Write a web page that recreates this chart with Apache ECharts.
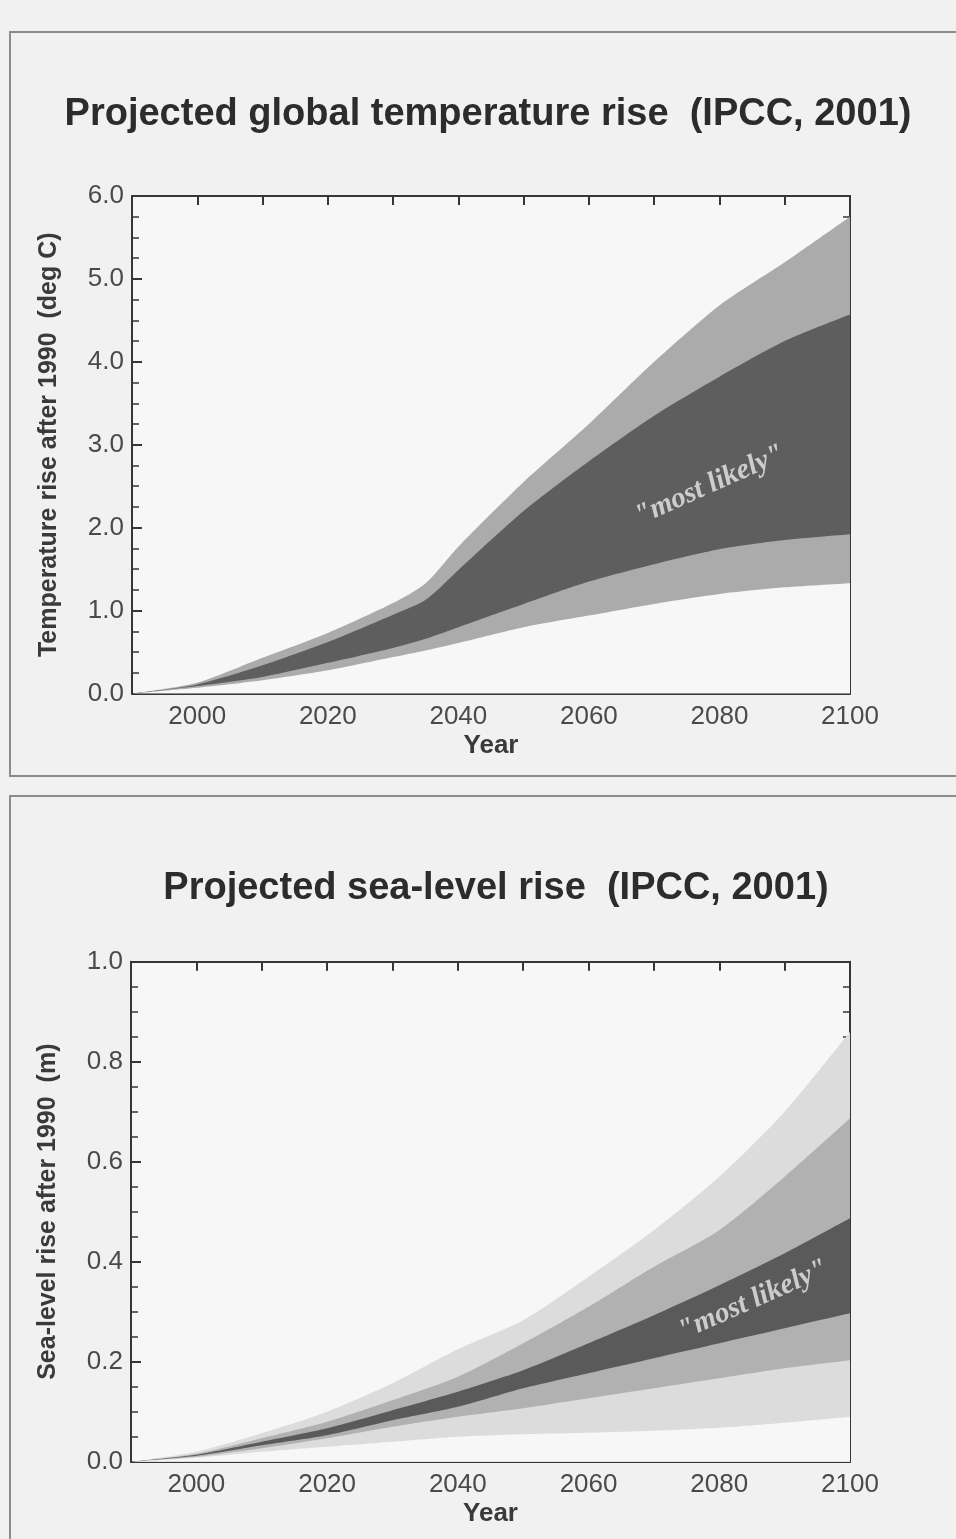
<!DOCTYPE html>
<html>
<head>
<meta charset="utf-8">
<script src="https://cdn.jsdelivr.net/npm/echarts@6/dist/echarts.min.js"></script>
<style>
  html, body { margin: 0; padding: 0; background: #f1f1f1; }
  #chart { width: 956px; height: 1539px; }
</style>
</head>
<body>
<div id="chart"></div>
<script>
// temperature projection (deg C above 1990)
const tempYears = [1990, 2000, 2010, 2020, 2030, 2035, 2040, 2050, 2060, 2070, 2080, 2090, 2100];
const tempLower = [0, 0.07, 0.16, 0.28, 0.44, 0.52, 0.61, 0.80, 0.94, 1.08, 1.20, 1.28, 1.33];
const tempLikelyLow = [0, 0.09, 0.20, 0.37, 0.55, 0.66, 0.80, 1.08, 1.35, 1.56, 1.74, 1.85, 1.92];
const tempLikelyHigh = [0, 0.11, 0.34, 0.62, 0.95, 1.13, 1.49, 2.20, 2.80, 3.35, 3.82, 4.25, 4.57];
const tempUpper = [0, 0.13, 0.43, 0.73, 1.09, 1.33, 1.77, 2.55, 3.25, 4.00, 4.68, 5.20, 5.75];

// sea-level projection (m above 1990)
const seaYears = [1990, 2000, 2010, 2020, 2030, 2040, 2050, 2060, 2070, 2080, 2090, 2100];
const seaLower = [0, 0.008, 0.020, 0.030, 0.040, 0.050, 0.055, 0.058, 0.062, 0.068, 0.078, 0.090];
const seaMidLow = [0, 0.010, 0.027, 0.047, 0.070, 0.090, 0.107, 0.127, 0.147, 0.167, 0.187, 0.203];
const seaLikelyLow = [0, 0.012, 0.033, 0.053, 0.083, 0.110, 0.147, 0.177, 0.207, 0.237, 0.267, 0.297];
const seaLikelyHigh = [0, 0.014, 0.040, 0.067, 0.103, 0.140, 0.183, 0.237, 0.293, 0.353, 0.417, 0.487];
const seaMidHigh = [0, 0.016, 0.047, 0.080, 0.123, 0.170, 0.237, 0.310, 0.390, 0.463, 0.570, 0.687];
const seaUpper = [0, 0.020, 0.057, 0.100, 0.157, 0.225, 0.283, 0.370, 0.463, 0.570, 0.700, 0.860];

const tempTicksY = [0, 6, 1];
const seaTicksY = [0, 1, 0.2];
const yearTicks = [1990, 2100, 10];

const tempNote = [2078.5, 2.51];
const seaNote = [2085.2, 0.323];

const FONT = 'Liberation Sans, Arial, sans-serif';
const AXIS_COLOR = '#363636';
const PLOT_BG = '#f7f7f7';
const LIGHT = '#ababab';
const DARK = '#5e5e5e';
const PALE = '#dcdcdc';

const chart = echarts.init(document.getElementById('chart'));

// each boundary is filled down to zero; later series paint over earlier ones
function layer(name, years, values, color, gridIdx) {
    return {
        name: name,
        type: 'line',
        xAxisIndex: gridIdx * 2,
        yAxisIndex: gridIdx * 2,
        smooth: 0.25,
        showSymbol: false,
        silent: true,
        lineStyle: { width: 0 },
        areaStyle: { color: color, opacity: 1, origin: 'start' },
        data: years.map((y, i) => [y, values[i]])
    };
}

function note(pos, gridIdx) {
    return {
        type: 'scatter',
        xAxisIndex: gridIdx * 2,
        yAxisIndex: gridIdx * 2,
        symbolSize: 0,
        itemStyle: { color: 'transparent' },
        silent: true,
        z: 10,
        label: {
            show: true,
            position: 'inside',
            rotate: 24,
            formatter: '"most likely"',
            fontFamily: 'Liberation Serif, DejaVu Serif, serif',
            fontStyle: 'italic',
            fontWeight: 'bold',
            fontSize: 29,
            color: '#e8e8e8'
        },
        data: [pos]
    };
}

function xAxes(gridIdx) {
    const common = {
        gridIndex: gridIdx,
        type: 'value',
        min: yearTicks[0],
        max: yearTicks[1],
        interval: yearTicks[2],
        splitLine: { show: false },
        axisLine: { show: true, onZero: false, lineStyle: { color: AXIS_COLOR, width: 2 } },
        axisTick: { show: true, inside: true, length: 9, lineStyle: { color: AXIS_COLOR, width: 2 } }
    };
    return [
        Object.assign({}, common, {
            position: 'bottom',
            axisLabel: {
                color: '#4a4a4a', fontFamily: FONT, fontSize: 26, margin: 10,
                formatter: v => (v % 20 === 0 ? String(v) : '')
            },
            name: 'Year',
            nameLocation: 'middle',
            nameGap: 39,
            nameTextStyle: { color: '#3a3a3a', fontFamily: FONT, fontSize: 26, fontWeight: 'bold' }
        }),
        Object.assign({}, common, { position: 'top', axisLabel: { show: false } })
    ];
}

function yAxes(gridIdx, ticks, title) {
    const common = {
        gridIndex: gridIdx,
        type: 'value',
        min: ticks[0],
        max: ticks[1],
        interval: ticks[2],
        splitLine: { show: false },
        axisLine: { show: true, onZero: false, lineStyle: { color: AXIS_COLOR, width: 2 } },
        axisTick: { show: true, inside: true, length: 10, lineStyle: { color: AXIS_COLOR, width: 2 } },
        minorTick: { show: true, splitNumber: 4, length: 7, lineStyle: { color: AXIS_COLOR, width: 1.5 } }
    };
    return [
        Object.assign({}, common, {
            position: 'left',
            axisLabel: {
                color: '#4a4a4a', fontFamily: FONT, fontSize: 26, margin: 8,
                formatter: v => v.toFixed(1)
            },
            name: title,
            nameLocation: 'middle',
            nameGap: 70,
            nameTextStyle: { color: '#3a3a3a', fontFamily: FONT, fontSize: 25, fontWeight: 'bold' }
        }),
        Object.assign({}, common, { position: 'right', axisLabel: { show: false } })
    ];
}

const option = {
    backgroundColor: '#f1f1f1',
    animation: false,
    title: [
        {
            text: 'Projected global temperature rise  (IPCC, 2001)',
            left: 483, top: 91, textAlign: 'center',
            textStyle: { fontFamily: FONT, fontSize: 38, fontWeight: 'bold', color: '#2c2c2c' }
        },
        {
            text: 'Projected sea-level rise  (IPCC, 2001)',
            left: 491, top: 865, textAlign: 'center',
            textStyle: { fontFamily: FONT, fontSize: 38, fontWeight: 'bold', color: '#2c2c2c' }
        }
    ],
    graphic: [
        { type: 'rect', shape: { x: 10, y: 32, width: 990, height: 744 }, style: { fill: null, stroke: '#8c8c8c', lineWidth: 2 }, silent: true },
        { type: 'rect', shape: { x: 10, y: 796, width: 990, height: 800 }, style: { fill: null, stroke: '#8c8c8c', lineWidth: 2 }, silent: true }
    ],
    grid: [
        { left: 132, top: 196, width: 718, height: 497.5, show: true, backgroundColor: PLOT_BG, borderWidth: 0 },
        { left: 131, top: 961.7, width: 719, height: 500, show: true, backgroundColor: PLOT_BG, borderWidth: 0 }
    ],
    xAxis: xAxes(0).concat(xAxes(1)),
    yAxis: yAxes(0, tempTicksY, 'Temperature rise after 1990  (deg C)')
        .concat(yAxes(1, seaTicksY, 'Sea-level rise after 1990  (m)')),
    series: [
        layer('temp upper', tempYears, tempUpper, LIGHT, 0),
        layer('temp likely high', tempYears, tempLikelyHigh, DARK, 0),
        layer('temp likely low', tempYears, tempLikelyLow, LIGHT, 0),
        layer('temp lower', tempYears, tempLower, PLOT_BG, 0),
        note(tempNote, 0),

        layer('sea upper', seaYears, seaUpper, PALE, 1),
        layer('sea mid high', seaYears, seaMidHigh, '#b1b1b1', 1),
        layer('sea likely high', seaYears, seaLikelyHigh, '#5a5a5a', 1),
        layer('sea likely low', seaYears, seaLikelyLow, '#b1b1b1', 1),
        layer('sea mid low', seaYears, seaMidLow, PALE, 1),
        layer('sea lower', seaYears, seaLower, PLOT_BG, 1),
        note(seaNote, 1)
    ]
};

chart.setOption(option);
</script>
</body>
</html>
